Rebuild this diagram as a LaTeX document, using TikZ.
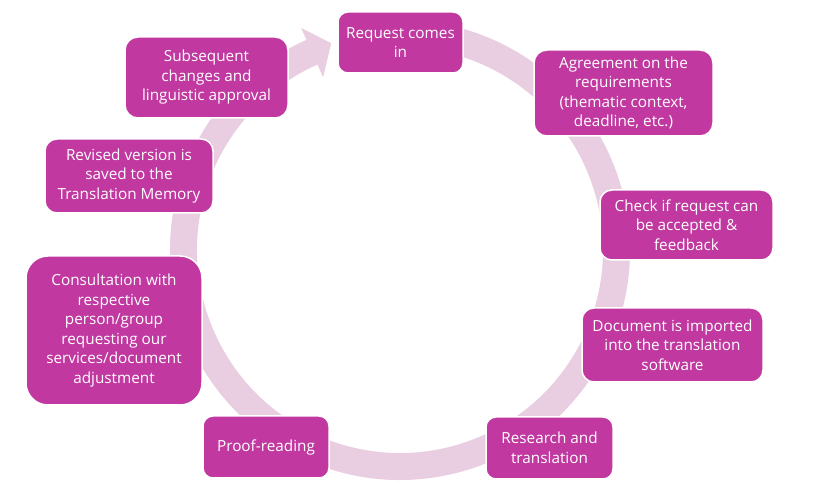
\documentclass[tikz,border=0pt]{standalone}
\usepackage{fontspec}
\setmainfont{Open Sans}
\definecolor{boxc}{RGB}{192,56,160}
\definecolor{ringc}{RGB}{232,206,224}
\tikzset{
  box/.style={fill=boxc, draw=white, line width=1.5pt, text=white, align=center,
    font=\fontsize{15.3}{19.5}\selectfont, inner sep=0pt},
  ring/.style={fill=ringc}
}
\begin{document}
\begin{tikzpicture}[x=1pt,y=1pt]
\useasboundingbox (0,0) rectangle (817,498);
\begin{scope}[shift={(400,248)}]
\fill[ring] (100:230) arc[start angle=100,end angle=-246,radius=230pt]
  -- (-246:243) -- (-251.6:218) -- (-246:189) -- (-246:203)
  arc[start angle=-246,end angle=100,radius=203pt] -- cycle;
\end{scope}
\node[box, minimum width=125pt, minimum height=61pt, rounded corners=10pt] (req) at (400.5,455.5) {Request comes\\in};
\node[box, minimum width=179pt, minimum height=86pt, rounded corners=13pt] (agr) at (623.5,405) {Agreement on the\\requirements\\(thematic context,\\deadline, etc.)};
\node[box, minimum width=173pt, minimum height=70pt, rounded corners=12pt] (chk) at (686.5,273) {Check if request can\\be accepted \&\\feedback};
\node[box, minimum width=181pt, minimum height=74pt, rounded corners=12pt] (doc) at (672.5,153) {Document is imported\\into the translation\\software};
\node[box, minimum width=127pt, minimum height=62pt, rounded corners=10pt] (res) at (549.5,50) {Research and\\translation};
\node[box, minimum width=126pt, minimum height=62pt, rounded corners=10pt] (prf) at (266,51) {Proof-reading};
\node[box, minimum width=176pt, minimum height=149pt, rounded corners=22pt] (con) at (114,167.5) {Consultation with\\respective\\person/group\\requesting our\\services/document\\adjustment};
\node[box, minimum width=168pt, minimum height=74pt, rounded corners=12pt] (rev) at (129,322) {Revised version is\\saved to the\\Translation Memory};
\node[box, minimum width=163pt, minimum height=81pt, rounded corners=13pt] (sub) at (206.5,420.5) {Subsequent\\changes and\\linguistic approval};
\end{tikzpicture}
\end{document}
